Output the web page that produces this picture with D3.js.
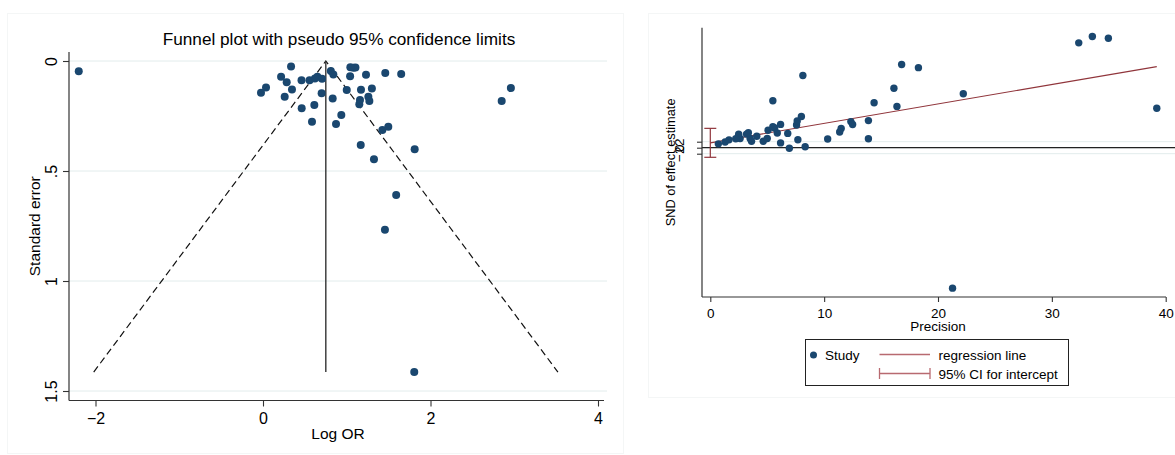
<!DOCTYPE html>
<meta charset="utf-8">
<head>
<style>
body { margin: 0; background: #fff; }
svg, svg text { font-family: "Liberation Sans", Arial, sans-serif; }
.grid line { stroke: #e2ecec; stroke-width: 1; }
.axis-line { stroke: #333; stroke-width: 1.2; }
.tick line { stroke: #333; stroke-width: 1.1; }
.domain { display: none; }
.dot { fill: #1a476f; }
.panel { fill: none; stroke: #f4f6f6; }
.ci line { stroke: #90353b; stroke-width: 1.2; }
.legend-ci line { stroke: #b86a70; stroke-width: 1.3; }
</style>
</head>
<body>
<svg width="1175" height="455"></svg>
<script src="https://cdn.jsdelivr.net/npm/d3@7"></script>
<script>

// study estimates
var logOR = [0.335, 0.216, 0.283, 0.036, -0.024, 0.259, 0.346, 0.46, 0.556, 0.65,
             0.705, 0.70, 0.462, 0.613, 0.585, 0.81, 0.84, 0.832, 0.935, 0.872,
             1.0, 1.04, 1.08, 1.104, 1.043, 1.23, 1.46, 1.65, 1.17, 1.30,
             1.258, 1.158, 1.15, 1.27, 1.425, 1.496, 1.167, 1.811, 1.325, -2.2,
             2.85, 2.96, 1.59, 1.456, 1.806, 0.62];
var se = [0.0255, 0.072, 0.097, 0.120, 0.144, 0.162, 0.130, 0.088, 0.087, 0.072,
          0.081, 0.147, 0.215, 0.200, 0.276, 0.045, 0.061, 0.170, 0.245, 0.286,
          0.132, 0.0695, 0.0309, 0.0298, 0.0286, 0.062, 0.0547, 0.0595, 0.131, 0.125,
          0.162, 0.177, 0.197, 0.182, 0.314, 0.299, 0.382, 0.401, 0.447, 0.047,
          0.182, 0.123, 0.609, 0.767, 1.414, 0.080];

var pooled = 0.75;
var eggerIntercept = 1.62, eggerSlope = 0.648;
var interceptCI = [-3.2, 6.45];

var funnelXTicks = [-2, 0, 2, 4];
var funnelYTicks = [0, 0.5, 1, 1.5];
var funnelYLabels = ["0", ".5", "1", "1.5"];
var precTicks = [0, 10, 20, 30, 40];
var sndTicks = [-2, 0, 2];

var navy = "#1a476f", maroon = "#90353b";

var svg = d3.select("svg");

var studies = logOR.map(function(d, i) {
  return { b: d, se: se[i], prec: 1 / se[i], snd: d / se[i] };
});

// faint graph region outlines
svg.append("rect").attr("class", "panel").attr("x", 7.5).attr("y", 13.5).attr("width", 616).attr("height", 440);
svg.append("rect").attr("class", "panel").attr("x", 648.5).attr("y", 13.5).attr("width", 540).attr("height", 384);

// ---------- left: funnel plot ----------
var x = d3.scaleLinear().domain([-2, 4]).range([95.5, 598]),
    y = d3.scaleLinear().domain([0, 1.5]).range([61, 391]);
var L = { left: 69, right: 607, top: 52, bottom: 400.5 };

var gl = svg.append("g");

gl.append("g").attr("class", "grid")
  .selectAll("line").data(funnelYTicks).enter().append("line")
    .attr("x1", L.left).attr("x2", L.right)
    .attr("y1", function(d) { return y(d); }).attr("y2", function(d) { return y(d); });

var maxSE = d3.max(se);
var ci = [[pooled - 1.96 * maxSE, maxSE], [pooled, 0], [pooled + 1.96 * maxSE, maxSE]];
gl.append("path")
    .attr("d", d3.line().x(function(d) { return x(d[0]); }).y(function(d) { return y(d[1]); })(ci))
    .attr("fill", "none").attr("stroke", "#111").attr("stroke-width", 1.2)
    .attr("stroke-dasharray", "7,4");

gl.append("line")
    .attr("x1", x(pooled)).attr("x2", x(pooled))
    .attr("y1", y(0)).attr("y2", y(maxSE))
    .attr("stroke", "#333").attr("stroke-width", 1.4);

gl.selectAll(".dot").data(studies).enter().append("circle")
    .attr("class", "dot")
    .attr("cx", function(d) { return x(d.b); })
    .attr("cy", function(d) { return y(d.se); })
    .attr("r", 4);

gl.append("line").attr("class", "axis-line")
    .attr("x1", L.left).attr("x2", L.left).attr("y1", L.top).attr("y2", L.bottom);
gl.append("line").attr("class", "axis-line")
    .attr("x1", L.left).attr("x2", 604).attr("y1", L.bottom).attr("y2", L.bottom);

var xAxisL = gl.append("g")
    .attr("transform", "translate(0," + L.bottom + ")")
    .call(d3.axisBottom(x).tickValues(funnelXTicks).tickSize(6).tickPadding(6).tickFormat(d3.format("d")));
xAxisL.attr("font-family", null).attr("font-size", null);
xAxisL.selectAll("text").attr("fill", "#000").style("font-size", "16px");

var yAxisL = gl.append("g")
    .attr("transform", "translate(" + L.left + ",0)")
    .call(d3.axisLeft(y).tickValues(funnelYTicks).tickSize(6)
      .tickFormat(function(d, i) { return funnelYLabels[i]; }));
yAxisL.attr("font-family", null).attr("font-size", null);
yAxisL.selectAll("text")
    .attr("x", null).attr("dy", null)
    .attr("transform", "translate(-12.5,0) rotate(-90)")
    .attr("text-anchor", "middle")
    .attr("fill", "#000").style("font-size", "16px");

gl.append("text")
    .attr("x", 339).attr("y", 45).attr("text-anchor", "middle")
    .style("font-size", "17.2px").text("Funnel plot with pseudo 95% confidence limits");
gl.append("text")
    .attr("x", (L.left + L.right) / 2).attr("y", 439).attr("text-anchor", "middle")
    .style("font-size", "15.5px").text("Log OR");
gl.append("text")
    .attr("transform", "translate(39.5," + (L.top + L.bottom) / 2 + ") rotate(-90)")
    .attr("text-anchor", "middle")
    .style("font-size", "15.5px").text("Standard error");

// ---------- right: Egger / Galbraith plot ----------
var xr = d3.scaleLinear().domain([0, 40]).range([710.3, 1165.7]),
    yr = d3.scaleLinear().domain([-2, 2]).range([153.7, 141.7]);
var R = { left: 702, right: 1175, top: 27.7, bottom: 297 };

var gr = svg.append("g");

gr.append("g").attr("class", "grid")
  .selectAll("line").data(sndTicks).enter().append("line")
    .attr("x1", R.left).attr("x2", R.right)
    .attr("y1", function(d) { return yr(d); }).attr("y2", function(d) { return yr(d); });

gr.append("line")
    .attr("x1", R.left).attr("x2", R.right)
    .attr("y1", yr(0)).attr("y2", yr(0))
    .attr("stroke", "#222").attr("stroke-width", 1.2);

var maxPrec = d3.max(studies, function(d) { return d.prec; });
gr.append("line")
    .attr("x1", xr(0)).attr("x2", xr(maxPrec))
    .attr("y1", yr(eggerIntercept)).attr("y2", yr(eggerIntercept + eggerSlope * maxPrec))
    .attr("stroke", maroon).attr("stroke-width", 1.1);

// capped bar, vertical or horizontal
function ciBar(g, cls, x1, y1, x2, y2, cap) {
  var v = x1 === x2;
  g.attr("class", cls);
  g.append("line").attr("x1", x1).attr("x2", x2).attr("y1", y1).attr("y2", y2);
  [[x1, y1], [x2, y2]].forEach(function(p) {
    g.append("line")
      .attr("x1", v ? p[0] - cap : p[0]).attr("x2", v ? p[0] + cap : p[0])
      .attr("y1", v ? p[1] : p[1] - cap).attr("y2", v ? p[1] : p[1] + cap);
  });
}
ciBar(gr.append("g"), "ci", xr(0), yr(interceptCI[1]), xr(0), yr(interceptCI[0]), 6);

gr.selectAll(".dot").data(studies).enter().append("circle")
    .attr("class", "dot")
    .attr("cx", function(d) { return xr(d.prec); })
    .attr("cy", function(d) { return yr(d.snd); })
    .attr("r", 3.7);

gr.append("line").attr("class", "axis-line")
    .attr("x1", R.left).attr("x2", R.left).attr("y1", R.top).attr("y2", R.bottom);
gr.append("line").attr("class", "axis-line")
    .attr("x1", R.left).attr("x2", 1166).attr("y1", R.bottom).attr("y2", R.bottom);

var xAxisR = gr.append("g")
    .attr("transform", "translate(0," + R.bottom + ")")
    .call(d3.axisBottom(xr).tickValues(precTicks).tickSize(5).tickPadding(6).tickFormat(d3.format("d")));
xAxisR.attr("font-family", null).attr("font-size", null);
xAxisR.selectAll("text").attr("fill", "#000").style("font-size", "13.5px");

var yAxisR = gr.append("g")
    .attr("transform", "translate(" + R.left + ",0)")
    .call(d3.axisLeft(yr).tickValues(sndTicks).tickSize(5).tickFormat(d3.format("d")));
yAxisR.attr("font-family", null).attr("font-size", null);
yAxisR.selectAll("text")
    .attr("x", null).attr("dy", null)
    .attr("transform", "translate(-18,0) rotate(-90)")
    .attr("text-anchor", "middle")
    .attr("fill", "#000").style("font-size", "13.5px");

gr.append("text")
    .attr("x", 938).attr("y", 331).attr("text-anchor", "middle")
    .style("font-size", "13.5px").text("Precision");
gr.append("text")
    .attr("transform", "translate(675," + (R.top + R.bottom) / 2 + ") rotate(-90)")
    .attr("text-anchor", "middle")
    .style("font-size", "12.8px").text("SND of effect estimate");

// legend
var lg = gr.append("g").style("font-size", "13.5px");
lg.append("rect").attr("x", 805.5).attr("y", 339.5).attr("width", 263).attr("height", 46)
    .attr("fill", "#fff").attr("stroke", "#222");
lg.append("circle").attr("class", "dot").attr("cx", 813.5).attr("cy", 355).attr("r", 3.5);
lg.append("text").attr("x", 825).attr("y", 360).text("Study");
lg.append("line").attr("x1", 879.5).attr("x2", 930).attr("y1", 354.5).attr("y2", 354.5)
    .attr("stroke", "#b86a70").attr("stroke-width", 1.3);
lg.append("text").attr("x", 938.5).attr("y", 360).text("regression line");
ciBar(lg.append("g"), "legend-ci", 879.5, 373.5, 930, 373.5, 5.5);
lg.append("text").attr("x", 938.5).attr("y", 378.5).text("95% CI for intercept");

</script>
</body>
</html>
